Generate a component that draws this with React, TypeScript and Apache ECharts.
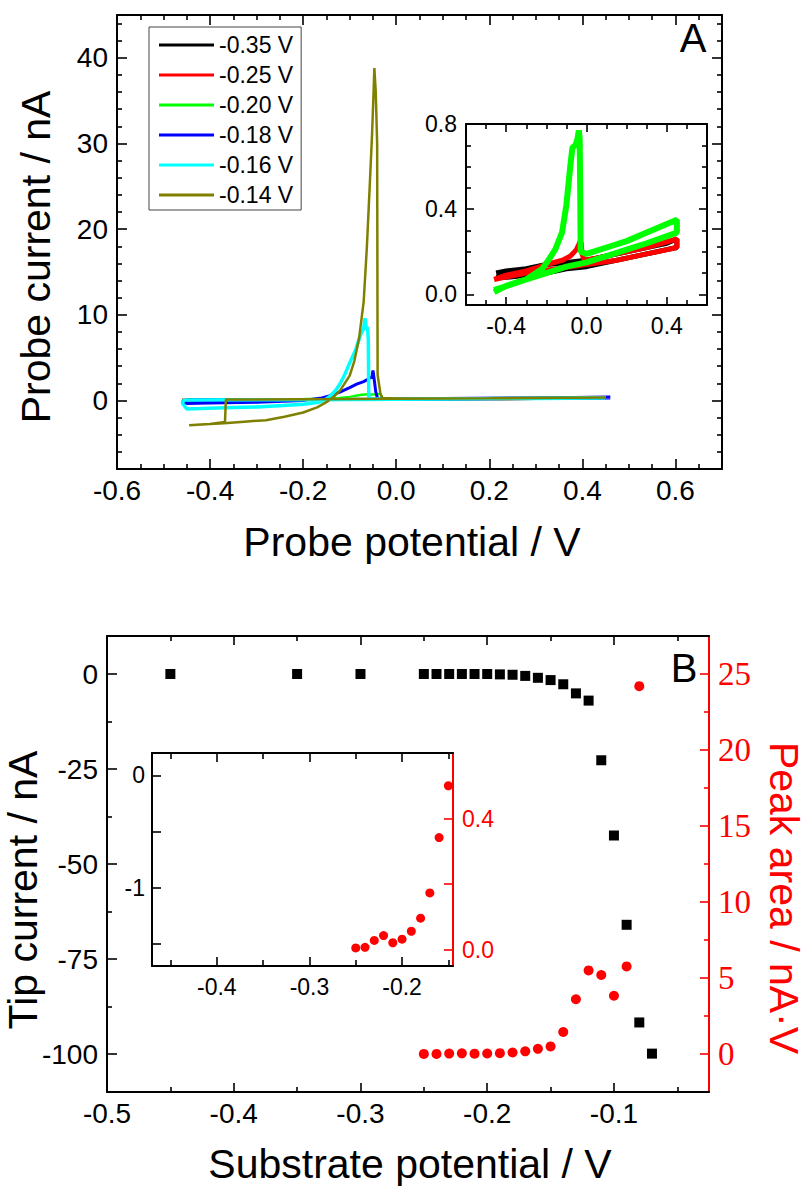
import React, { useEffect, useRef } from "react";
import * as echarts from "echarts";

// ---------------- Panel A : probe voltammograms ----------------
const legendLabels = ["-0.35 V", "-0.25 V", "-0.20 V", "-0.18 V", "-0.16 V", "-0.14 V"];
const curveColors = ["#000000", "#ff0000", "#00ff00", "#0000ff", "#00ffff", "#808000"];

// [probe potential (V), probe current (nA)]
const cv035: number[][] = [
  [-0.45, 0.1], [-0.4, 0.11], [-0.3, 0.12], [-0.2, 0.14], [-0.1, 0.15], [0.0, 0.16], [0.1, 0.18],
  [0.2, 0.2], [0.3, 0.22], [0.4, 0.24], [0.45, 0.26], [0.45, 0.22], [0.4, 0.21], [0.3, 0.19],
  [0.2, 0.17], [0.1, 0.15], [0.0, 0.13], [-0.1, 0.12], [-0.2, 0.1], [-0.3, 0.09], [-0.4, 0.08], [-0.45, 0.08],
];
const cv025: number[][] = [
  [-0.46, 0.07], [-0.4, 0.09], [-0.3, 0.11], [-0.2, 0.14], [-0.12, 0.16], [-0.08, 0.18], [-0.05, 0.21],
  [-0.038, 0.235], [-0.031, 0.25], [-0.026, 0.24], [-0.022, 0.19], [-0.012, 0.16], [0.05, 0.17],
  [0.15, 0.19], [0.3, 0.22], [0.45, 0.26], [0.45, 0.22], [0.3, 0.19], [0.15, 0.16], [0.0, 0.14],
  [-0.15, 0.12], [-0.3, 0.1], [-0.46, 0.07],
];
const cv020: number[][] = [
  [-0.46, 0.01], [-0.4, 0.04], [-0.3, 0.07], [-0.22, 0.12], [-0.19, 0.16], [-0.156, 0.21], [-0.122, 0.29],
  [-0.1, 0.42], [-0.081, 0.6], [-0.07, 0.69], [-0.055, 0.7], [-0.045, 0.73], [-0.038, 0.77], [-0.034, 0.73],
  [-0.031, 0.45], [-0.029, 0.2], [0.0, 0.19], [0.1, 0.22], [0.2, 0.25], [0.3, 0.29], [0.45, 0.35],
  [0.45, 0.29], [0.3, 0.24], [0.2, 0.21], [0.1, 0.18], [0.0, 0.15], [-0.1, 0.13], [-0.2, 0.1],
  [-0.3, 0.07], [-0.46, 0.02],
];
const cv018: number[][] = [
  [0.46, 0.4], [0.3, 0.3], [0.1, 0.22], [-0.02, 0.18], [-0.04, 0.2], [-0.044, 1.0], [-0.047, 2.3],
  [-0.05, 3.5], [-0.052, 2.8], [-0.06, 2.5], [-0.07, 2.2], [-0.085, 1.9], [-0.1, 1.5], [-0.12, 1.0],
  [-0.14, 0.6], [-0.16, 0.3], [-0.2, 0.0], [-0.3, -0.2], [-0.4, -0.3], [-0.45, -0.35], [-0.46, -0.1],
  [-0.45, 0.05], [-0.3, 0.08], [-0.1, 0.1], [0.1, 0.18], [0.3, 0.25], [0.46, 0.3],
];
const cv016: number[][] = [
  [0.45, 0.3], [0.2, 0.22], [0.0, 0.18], [-0.055, 0.2], [-0.059, 0.4], [-0.06, 7.2], [-0.062, 8.6],
  [-0.064, 8.3], [-0.067, 9.6], [-0.07, 8.4], [-0.077, 7.6], [-0.088, 5.8], [-0.099, 4.5], [-0.11, 3.1],
  [-0.12, 2.0], [-0.13, 1.2], [-0.142, 0.5], [-0.155, 0.0], [-0.17, -0.25], [-0.2, -0.45], [-0.243, -0.6],
  [-0.3, -0.75], [-0.35, -0.82], [-0.42, -0.95], [-0.45, -1.0], [-0.46, -0.3], [-0.455, 0.05],
  [-0.3, 0.08], [-0.1, 0.12], [0.1, 0.18], [0.3, 0.24], [0.45, 0.28],
];
const cv014: number[][] = [
  [0.45, 0.35], [0.2, 0.25], [0.0, 0.2], [-0.2, 0.15], [-0.366, 0.1], [-0.368, -2.5], [-0.4, -2.75],
  [-0.445, -2.9], [-0.42, -2.8], [-0.37, -2.65], [-0.32, -2.45], [-0.28, -2.3], [-0.24, -1.9],
  [-0.2, -1.4], [-0.17, -0.8], [-0.15, -0.2], [-0.135, 0.4], [-0.12, 1.2], [-0.1, 2.9], [-0.09, 4.6],
  [-0.08, 7.2], [-0.07, 11.5], [-0.063, 18], [-0.057, 25], [-0.052, 31], [-0.049, 35.5], [-0.047, 38.8],
  [-0.044, 36], [-0.041, 30], [-0.04, 3], [-0.037, 1.9], [-0.034, 0.8], [-0.03, 0.3], [0.0, 0.22],
  [0.2, 0.27], [0.45, 0.35],
];
const curves = [cv035, cv025, cv020, cv018, cv016, cv014];

// ---------------- Panel B : tip current & peak area ----------------
const tipPotential = [-0.45, -0.35, -0.3, -0.25, -0.24, -0.23, -0.22, -0.21, -0.2, -0.19, -0.18, -0.17, -0.16, -0.15, -0.14, -0.13, -0.12, -0.11, -0.1, -0.09, -0.08, -0.07];
const tipCurrent = [0, 0, 0, 0, 0, 0, 0, 0, 0, -0.1, -0.2, -0.5, -1.0, -1.6, -2.7, -5.1, -7.0, -22.7, -42.5, -66, -91.7, -99.9];
const areaPotential = [-0.25, -0.24, -0.23, -0.22, -0.21, -0.2, -0.19, -0.18, -0.17, -0.16, -0.15, -0.14, -0.13, -0.12, -0.11, -0.1, -0.09, -0.08];
const peakArea = [0.005, 0.007, 0.028, 0.043, 0.021, 0.032, 0.056, 0.096, 0.173, 0.342, 0.5, 1.45, 3.6, 5.5, 5.2, 3.83, 5.76, 24.2];

// ---------------- Tick values ----------------
const aXMajor = [-0.6, -0.4, -0.2, 0, 0.2, 0.4, 0.6];
const aXMinor = [-0.55, -0.5, -0.45, -0.35, -0.3, -0.25, -0.15, -0.1, -0.05, 0.05, 0.1, 0.15, 0.25, 0.3, 0.35, 0.45, 0.5, 0.55, 0.65];
const aYMajor = [0, 10, 20, 30, 40];
const aYMinor = [-6, -4, -2, 2, 4, 6, 8, 12, 14, 16, 18, 22, 24, 26, 28, 32, 34, 36, 38, 42, 44];
const iaXMajor = [-0.4, 0, 0.4];
const iaXMinor = [-0.5, -0.3, -0.2, -0.1, 0.1, 0.2, 0.3, 0.5];
const iaYMajor = [0, 0.4, 0.8];
const iaYMinor = [0.1, 0.2, 0.3, 0.5, 0.6, 0.7];
const bXMajor = [-0.5, -0.4, -0.3, -0.2, -0.1];
const bXMinor = [-0.45, -0.35, -0.25, -0.15, -0.05];
const bYLMajor = [0, -25, -50, -75, -100];
const bYLMinor = [-12.5, -37.5, -62.5, -87.5];
const bYRMajor = [0, 5, 10, 15, 20, 25];
const bYRMinor = [2.5, 7.5, 12.5, 17.5, 22.5];
const ibXMajor = [-0.4, -0.3, -0.2];
const ibXMinor = [-0.45, -0.35, -0.25, -0.15];
const ibYLMajor = [0, -1];
const ibYLMinor = [-0.5, -1.5];
const ibYRMajor = [0, 0.4];
const ibYRMinor = [0.2];

const SANS = "Liberation Sans";
const SERIF = "Liberation Serif";

type LabelSpec = { size: number; family: string; margin: number; digits: number; color?: string };

function buildOption() {
  const xAxes: any[] = [];
  const yAxes: any[] = [];

  function side(
    dim: "x" | "y", gridIndex: number, position: string, min: number, max: number,
    majors: number[], minors: number[], color: string, majorLen: number, minorLen: number,
    label?: LabelSpec
  ): number {
    const list = dim === "x" ? xAxes : yAxes;
    const idx = list.length;
    const common = {
      type: "value", gridIndex, position, min, max,
      splitLine: { show: false }, splitArea: { show: false },
    };
    const labelColor = label ? label.color ?? color : color;
    list.push({
      ...common,
      axisLine: { show: true, onZero: false, lineStyle: { color, width: 2 } },
      axisTick: { show: true, inside: true, length: majorLen, customValues: majors, lineStyle: { color, width: 1.6 } },
      axisLabel: label
        ? {
            show: true, customValues: majors, margin: label.margin, color: labelColor,
            fontSize: label.size, fontFamily: label.family, hideOverlap: false,
            formatter: (v: number) => v.toFixed(label.digits),
          }
        : { show: false },
    });
    list.push({
      ...common,
      axisLine: { show: false, onZero: false },
      axisTick: { show: true, inside: true, length: minorLen, customValues: minors, lineStyle: { color, width: 1.6 } },
      axisLabel: { show: false },
    });
    return idx;
  }

  const gridBase = { containLabel: false, outerBoundsMode: "none" };
  const grid = [
    { ...gridBase, left: 117, top: 15, width: 605, height: 454, show: false },
    { ...gridBase, left: 466, top: 124, width: 241, height: 181, show: true, backgroundColor: "#fff", borderWidth: 0 },
    { ...gridBase, left: 107, top: 636, width: 602, height: 456, show: false },
    { ...gridBase, left: 152, top: 753, width: 301, height: 213, show: true, backgroundColor: "#fff", borderWidth: 0 },
  ];

  // Panel A main
  const aX = side("x", 0, "bottom", -0.6, 0.7, aXMajor, aXMinor, "#000", 10, 5, { size: 28, family: SANS, margin: 7, digits: 1 });
  side("x", 0, "top", -0.6, 0.7, aXMajor, aXMinor, "#000", 10, 5);
  const aY = side("y", 0, "left", -8, 45, aYMajor, aYMinor, "#000", 10, 5, { size: 28, family: SANS, margin: 9, digits: 0 });
  side("y", 0, "right", -8, 45, aYMajor, aYMinor, "#000", 10, 5);

  // Panel A inset
  const iaX = side("x", 1, "bottom", -0.6, 0.6, iaXMajor, iaXMinor, "#000", 8, 5, { size: 23, family: SANS, margin: 9, digits: 1 });
  side("x", 1, "top", -0.6, 0.6, iaXMajor, iaXMinor, "#000", 8, 5);
  const iaY = side("y", 1, "left", -0.05, 0.8, iaYMajor, iaYMinor, "#000", 8, 5, { size: 23, family: SANS, margin: 9, digits: 1 });
  side("y", 1, "right", -0.05, 0.8, iaYMajor, iaYMinor, "#000", 8, 5);

  // Panel B main
  const bX = side("x", 2, "bottom", -0.5, -0.025, bXMajor, bXMinor, "#000", 9, 5, { size: 28, family: SANS, margin: 7, digits: 1 });
  side("x", 2, "top", -0.5, -0.025, bXMajor, bXMinor, "#000", 9, 5);
  const bYL = side("y", 2, "left", -110, 10, bYLMajor, bYLMinor, "#000", 10, 5, { size: 28, family: SANS, margin: 9, digits: 0 });
  const bYR = side("y", 2, "right", -2.5, 27.5, bYRMajor, bYRMinor, "#ff0000", 9, 5, { size: 33, family: SERIF, margin: 9, digits: 0 });

  // Panel B inset
  const ibX = side("x", 3, "bottom", -0.47, -0.145, ibXMajor, ibXMinor, "#000", 9, 6, { size: 23, family: SANS, margin: 9, digits: 1 });
  side("x", 3, "top", -0.47, -0.145, ibXMajor, ibXMinor, "#000", 9, 6);
  side("y", 3, "left", -1.7, 0.2, ibYLMajor, ibYLMinor, "#000", 9, 9, { size: 23, family: SANS, margin: 7, digits: 0 });
  const ibYR = side("y", 3, "right", -0.05, 0.6, ibYRMajor, ibYRMinor, "#ff0000", 9, 9, { size: 23, family: SANS, margin: 9, digits: 1 });

  const mainWidths = [2.5, 2.5, 2.5, 3, 3.5, 2.5];
  const series: any[] = [];
  curves.forEach((d, i) => {
    series.push({
      type: "line", name: legendLabels[i], data: d, xAxisIndex: aX, yAxisIndex: aY,
      symbol: "none", showSymbol: false, clip: true, z: 2 + i,
      lineStyle: { color: curveColors[i], width: mainWidths[i] }, itemStyle: { color: curveColors[i] },
    });
  });
  [0, 1, 2].forEach((i) => {
    series.push({
      type: "line", name: legendLabels[i], data: curves[i], xAxisIndex: iaX, yAxisIndex: iaY,
      symbol: "none", showSymbol: false, clip: true, z: 10 + i,
      lineStyle: { color: curveColors[i], width: i === 2 ? 6 : 5 }, itemStyle: { color: curveColors[i] },
    });
  });
  series.push({
    type: "scatter", name: "Tip current", data: tipPotential.map((x, i) => [x, tipCurrent[i]]),
    xAxisIndex: bX, yAxisIndex: bYL, symbol: "rect", symbolSize: 10, itemStyle: { color: "#000", opacity: 1 }, z: 5,
  });
  series.push({
    type: "scatter", name: "Peak area", data: areaPotential.map((x, i) => [x, peakArea[i]]),
    xAxisIndex: bX, yAxisIndex: bYR, symbol: "circle", symbolSize: 10, itemStyle: { color: "#ff0000", opacity: 1 }, z: 5,
  });
  series.push({
    type: "scatter", name: "Peak area inset", data: areaPotential.map((x, i) => [x, peakArea[i]]),
    xAxisIndex: ibX, yAxisIndex: ibYR, symbol: "circle", symbolSize: 9, clip: true,
    itemStyle: { color: "#ff0000", opacity: 1 }, z: 12,
  });

  const txt = (text: string, x: number, y: number, size: number, rotation = 0, color = "#000") => ({
    type: "text", x, y, rotation, z: 100,
    style: {
      text, fill: color, font: `${size}px ${SANS}`, fontSize: size, fontFamily: SANS,
      textAlign: "center", textVerticalAlign: "middle", align: "center", verticalAlign: "middle",
    },
  });

  return {
    animation: false,
    backgroundColor: "#fff",
    grid,
    xAxis: xAxes,
    yAxis: yAxes,
    legend: {
      show: true, data: legendLabels, orient: "vertical", left: 149, top: 27,
      padding: [3, 8, 0, 10], itemWidth: 55, itemHeight: 3, itemGap: 0, icon: "rect",
      borderColor: "#444", borderWidth: 1, backgroundColor: "#fff",
      textStyle: { fontSize: 23, fontFamily: SANS, color: "#000", lineHeight: 30 },
      selectedMode: false,
    },
    series,
    graphic: [
      txt("Probe current / nA", 36, 257, 41, Math.PI / 2),
      txt("Probe potential / V", 412, 542, 41),
      txt("A", 693, 38, 40),
      txt("Tip current / nA", 23, 890, 41, Math.PI / 2),
      txt("Substrate potential / V", 410, 1164, 41),
      txt("Peak area / nA\u00b7V", 784, 898, 41, -Math.PI / 2, "#ff0000"),
      txt("B", 684, 668, 40),
    ],
  };
}

export default function App() {
  const ref = useRef<HTMLDivElement>(null);
  useEffect(() => {
    if (!ref.current) return;
    const chart = echarts.init(ref.current, null, { renderer: "svg" });
    chart.setOption(buildOption() as any);
    return () => chart.dispose();
  }, []);
  return (
    <div
      ref={ref}
      style={{ position: "absolute", left: 0, top: 0, width: 806, height: 1189, background: "#fff" }}
    />
  );
}
